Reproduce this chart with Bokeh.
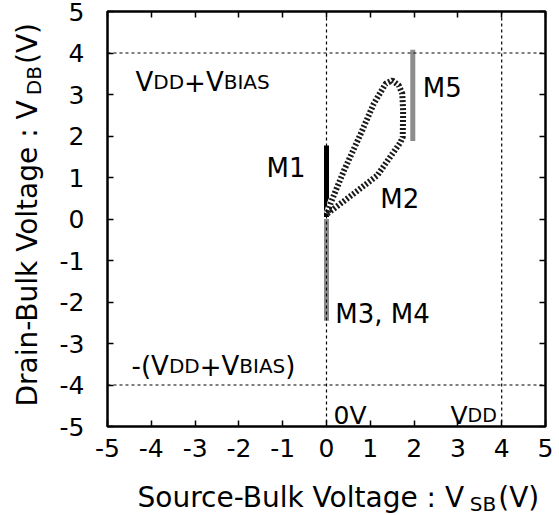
import math
from bokeh.plotting import figure
from bokeh.models import Range1d, LinearAxis, Label, FixedTicker, Span
from bokeh.layouts import row, column
from bokeh.embed import file_html
from bokeh.resources import INLINE

# ---------------- data ----------------
x_ticks = [-5, -4, -3, -2, -1, 0, 1, 2, 3, 4, 5]
y_ticks = [-5, -4, -3, -2, -1, 0, 1, 2, 3, 4, 5]
tick_text = {t: str(t) for t in x_ticks}   # plain hyphen-minus as in the reference

ref_x = [0, 4]      # dashed verticals: 0V, VDD
ref_y = [4, -4]     # dashed horizontals: VDD+VBIAS, -(VDD+VBIAS)

m1_x = [0.0, 0.0]
m1_y = [0.05, 1.77]
m34_x = [0.0, 0.0]
m34_y = [0.0, -2.45]
m5_x = [1.97, 1.97]
m5_y = [1.88, 4.08]
m2_x = [0.02, 0.62, 1.16, 1.69, 1.74, 1.75, 1.73, 1.65, 1.50, 1.35, 1.08, 0.78, 0.40, 0.09, 0.02]
m2_y = [0.13, 0.61, 1.05, 1.85, 1.97, 2.60, 3.02, 3.22, 3.34, 3.26, 2.78, 2.05, 1.17, 0.37, 0.13]

xlabel_parts = ["Source-Bulk Voltage : V", "SB", " (V)"]
ylabel_parts = ["Drain-Bulk Voltage : V", "DB", " (V)"]
vbias_parts = ["V", "DD", "+", "V", "BIAS"]
nvbias_parts = ["-(", "V", "DD", "+", "V", "BIAS", ")"]
vdd_parts = ["V", "DD"]
zero_text = "0V"
m_labels = ["M1", "M2", "M3, M4", "M5"]

# ---------------- style ----------------
FONT = "DejaVu Sans"
W = {' ': 318, '(': 390, ')': 390, '+': 838, '-': 361, ':': 337, ',': 318,
     'A': 684, 'B': 686, 'D': 770, 'I': 295, 'M': 863, 'S': 635, 'V': 684,
     'a': 613, 'e': 615, 'g': 635, 'i': 278, 'k': 579, 'l': 278, 'n': 634,
     'o': 612, 'r': 411, 't': 392, 'u': 634, 'c': 550, 's': 521}
for d in "0123456789":
    W[d] = 636


def tw(s, size):
    return sum(W.get(c, 620) for c in s) / 1000.0 * size


LEFT_W, BOTTOM_H = 45, 45
TOTAL_W, TOTAL_H = 559, 515
MAIN_W, MAIN_H = TOTAL_W - LEFT_W, TOTAL_H - BOTTOM_H

p = figure(width=MAIN_W, height=MAIN_H, output_backend="svg", toolbar_location=None,
           x_range=Range1d(-5, 5), y_range=Range1d(-5, 5), title=None,
           min_border_left=107 - LEFT_W, min_border_right=14, min_border_top=11,
           min_border_bottom=MAIN_H - 426)
p.frame_align = False
p.background_fill_color = "white"
p.border_fill_color = "white"
p.outline_line_color = "black"
p.outline_line_width = 2.5
p.grid.visible = False

for ax, ticks in ((p.xaxis[0], x_ticks), (p.yaxis[0], y_ticks)):
    ax.ticker = FixedTicker(ticks=ticks)
    ax.major_label_overrides = dict(tick_text)
    ax.major_tick_in = 6
    ax.major_tick_out = 0
    ax.minor_tick_line_color = None
    ax.axis_line_color = None
    ax.major_tick_line_color = "black"
    ax.major_tick_line_width = 1.5
    ax.major_label_text_font = FONT
    ax.major_label_text_font_size = "25px"
    ax.major_label_text_color = "black"
p.xaxis.major_label_standoff = 12
p.yaxis.major_label_standoff = 23

for side, ticks in (("right", y_ticks), ("above", x_ticks)):
    ax = LinearAxis(ticker=FixedTicker(ticks=ticks), major_tick_in=6, major_tick_out=0,
                    minor_tick_line_color=None, axis_line_color=None,
                    major_tick_line_color="black", major_tick_line_width=1.5,
                    major_label_text_font_size="1px", major_label_text_alpha=0,
                    major_label_standoff=0)
    p.add_layout(ax, side)

for v in ref_x:
    p.add_layout(Span(location=v, dimension="height", line_color="black",
                      line_width=1.2, line_dash="3 3"))
for v in ref_y:
    p.add_layout(Span(location=v, dimension="width", line_color="black",
                      line_width=1.2, line_dash="3 3"))

GRAY = "#8c8c8c"
p.line(m34_x, m34_y, line_color=GRAY, line_width=5)
p.line(m1_x, m1_y, line_color="black", line_width=5)
p.line(m2_x, m2_y, line_color="white", line_width=7)
p.line(m2_x, m2_y, line_color="#1a1a1a", line_width=6, line_dash="2 2")
p.line(m5_x, m5_y, line_color=GRAY, line_width=5)


def rich(fig, x, y, parts, sizes, shifts, angle=0.0, align="left", offsets=True, gap=0.0):
    """Place a run of text pieces of differing sizes one after another."""
    total = sum(tw(t, s) for t, s in zip(parts, sizes))
    off = -total if align == "right" else 0.0
    for t, s, sh in zip(parts, sizes, shifts):
        kw = dict(text=t, text_font=FONT, text_font_size=f"{s}px", text_color="black",
                  text_align="left", text_baseline="alphabetic")
        if offsets:
            lab = Label(x=x, y=y, x_offset=off, **kw)
        elif angle == 0:
            lab = Label(x=x + off, y=y - sh, **kw)
        else:
            lab = Label(x=x + sh, y=y + off, angle=angle, **kw)
        fig.add_layout(lab)
        off += tw(t, s) + gap


BIG, SMALL = 26, 20
rich(p, -4.36, 3.29, vbias_parts, [BIG, SMALL, BIG, BIG, SMALL], [0] * 5)
rich(p, -4.45, -3.55, nvbias_parts, [BIG, BIG, SMALL, BIG, BIG, SMALL, BIG], [0] * 7)
rich(p, 0.16, -4.73, [zero_text], [25], [0])
rich(p, 2.83, -4.73, vdd_parts, [25, 19], [0, 0])

rich(p, -0.48, 1.24, [m_labels[0]], [26], [0], align="right")
rich(p, 1.23, 0.49, [m_labels[1]], [26], [0])
rich(p, 0.20, -2.30, [m_labels[2]], [26], [0])
rich(p, 2.20, 3.15, [m_labels[3]], [26], [0])


def blank(w, h):
    f = figure(width=w, height=h, output_backend="svg", toolbar_location=None, title=None,
               x_range=Range1d(0, w), y_range=Range1d(0, h),
               x_axis_location=None, y_axis_location=None,
               min_border=0, min_border_left=0, min_border_right=0,
               min_border_top=0, min_border_bottom=0)
    f.frame_align = False
    f.outline_line_color = None
    f.grid.visible = False
    f.background_fill_color = "white"
    f.border_fill_color = "white"
    return f


# y-axis title (rotated, with subscript)
left = blank(LEFT_W, TOTAL_H)
rich(left, 27, TOTAL_H - 406, ylabel_parts, [28, 20, 28], [0, 6, 0],
     angle=math.pi / 2, offsets=False, gap=2)

# x-axis title (with subscript)
bottom = blank(MAIN_W, BOTTOM_H)
rich(bottom, 137 - LEFT_W, 18, xlabel_parts, [28, 20, 28], [0, 6, 0], offsets=False, gap=2)

layout = row(left, column(p, bottom, spacing=0), spacing=0)
open("out.html", "w").write(file_html(layout, INLINE))
